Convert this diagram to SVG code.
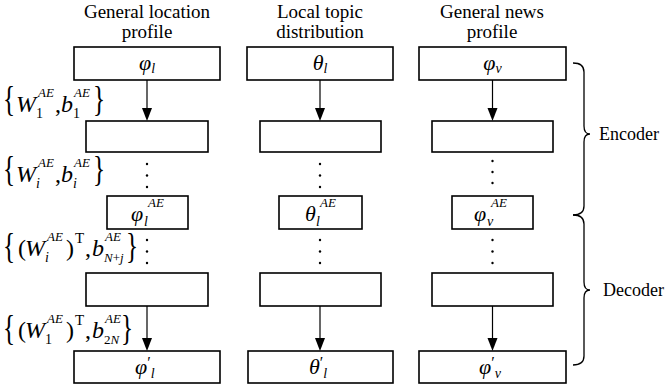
<svg xmlns="http://www.w3.org/2000/svg" width="672" height="390" viewBox="0 0 672 390" font-family="'Liberation Serif', Tinos, 'Times New Roman', 'DejaVu Serif', serif">
<style>
text{font-family:'Liberation Serif', Tinos, 'Times New Roman', 'DejaVu Serif', serif;fill:#000}
.t{font-size:19px}
.e{font-size:18px}
.m{font-style:italic}
.box{fill:#fff;stroke:#000;stroke-width:1.6}
.ln{stroke:#000;stroke-width:1.2;fill:none}
.br{fill:none;stroke:#000;stroke-width:1.3}
.dot{fill:#000}
.ah{fill:#000}
</style>
<rect width="672" height="390" fill="#fff"/>

<g id="titles">
<text class="t" x="147" y="18" text-anchor="middle">General location</text>
<text class="t" x="147" y="38" text-anchor="middle">profile</text>
<text class="t" x="320" y="18" text-anchor="middle">Local topic</text>
<text class="t" x="320" y="38" text-anchor="middle">distribution</text>
<text class="t" x="492" y="18" text-anchor="middle">General news</text>
<text class="t" x="492" y="38" text-anchor="middle">profile</text>
</g>

<g id="connectors">
<line class="ln" x1="147" y1="80" x2="147" y2="110"/>
<path class="ah" d="M142,108 L152,108 L147,121 z"/>
<line class="ln" x1="320" y1="80" x2="320" y2="110"/>
<path class="ah" d="M315,108 L325,108 L320,121 z"/>
<line class="ln" x1="492.5" y1="80" x2="492.5" y2="110"/>
<path class="ah" d="M487.5,108 L497.5,108 L492.5,121 z"/>
<line class="ln" x1="147" y1="306" x2="147" y2="340"/>
<path class="ah" d="M142,338 L152,338 L147,351 z"/>
<line class="ln" x1="320" y1="306" x2="320" y2="340"/>
<path class="ah" d="M315,338 L325,338 L320,351 z"/>
<line class="ln" x1="492.5" y1="306" x2="492.5" y2="340"/>
<path class="ah" d="M487.5,338 L497.5,338 L492.5,351 z"/>
</g>

<g id="dots">
<circle class="dot" cx="147" cy="164" r="1.2"/><circle class="dot" cx="147" cy="175.5" r="1.2"/><circle class="dot" cx="147" cy="187" r="1.2"/>
<circle class="dot" cx="147" cy="240" r="1.2"/><circle class="dot" cx="147" cy="251.5" r="1.2"/><circle class="dot" cx="147" cy="263" r="1.2"/>
<circle class="dot" cx="320" cy="164" r="1.2"/><circle class="dot" cx="320" cy="175.5" r="1.2"/><circle class="dot" cx="320" cy="187" r="1.2"/>
<circle class="dot" cx="320" cy="240" r="1.2"/><circle class="dot" cx="320" cy="251.5" r="1.2"/><circle class="dot" cx="320" cy="263" r="1.2"/>
<circle class="dot" cx="492.5" cy="161" r="1.2"/><circle class="dot" cx="492.5" cy="172" r="1.2"/><circle class="dot" cx="492.5" cy="183" r="1.2"/>
<circle class="dot" cx="492.5" cy="240" r="1.2"/><circle class="dot" cx="492.5" cy="251.5" r="1.2"/><circle class="dot" cx="492.5" cy="263" r="1.2"/>
</g>

<!-- Column 1 -->
<g id="c1_in">
<rect class="box" x="74" y="47" width="146" height="33"/>
<text class="m" x="147" y="70" font-size="22" text-anchor="middle">φ<tspan font-size="14" dy="3">l</tspan></text>
</g>
<g id="c1_h1"><rect class="box" x="86" y="121" width="122" height="31"/></g>
<g id="c1_code">
<rect class="box" x="107" y="196" width="81" height="33"/>
<text class="m" x="131" y="221" font-size="22">φ</text>
<text class="m" x="148" y="207" font-size="13">AE</text>
<text class="m" x="144" y="226" font-size="14">l</text>
</g>
<g id="c1_h2"><rect class="box" x="86" y="273" width="122" height="33"/></g>
<g id="c1_out">
<rect class="box" x="74" y="351" width="146" height="32"/>
<text class="m" x="135" y="374" font-size="22">φ<tspan font-style="normal" font-size="16" dy="-6">′</tspan><tspan font-size="14" dy="10">l</tspan></text>
</g>

<!-- Column 2 -->
<g id="c2_in">
<rect class="box" x="247" y="47" width="146" height="33"/>
<text class="m" x="320" y="70" font-size="22" text-anchor="middle">θ<tspan font-size="14" dy="3">l</tspan></text>
</g>
<g id="c2_h1"><rect class="box" x="260" y="121" width="121" height="31"/></g>
<g id="c2_code">
<rect class="box" x="279" y="196" width="83" height="33"/>
<text class="m" x="305" y="221" font-size="22">θ</text>
<text class="m" x="320" y="207" font-size="13">AE</text>
<text class="m" x="316" y="226" font-size="14">l</text>
</g>
<g id="c2_h2"><rect class="box" x="260" y="273" width="121" height="33"/></g>
<g id="c2_out">
<rect class="box" x="248" y="351" width="145" height="32"/>
<text class="m" x="309" y="374" font-size="22">θ<tspan font-style="normal" font-size="16" dy="-6">′</tspan><tspan font-size="14" dy="10">l</tspan></text>
</g>

<!-- Column 3 -->
<g id="c3_in">
<rect class="box" x="419" y="47" width="147" height="33"/>
<text class="m" x="492.5" y="70" font-size="22" text-anchor="middle">φ<tspan font-size="14" dy="3">v</tspan></text>
</g>
<g id="c3_h1"><rect class="box" x="432" y="121" width="121" height="31"/></g>
<g id="c3_code">
<rect class="box" x="452" y="196" width="81" height="33"/>
<text class="m" x="474" y="221" font-size="22">φ</text>
<text class="m" x="491" y="207" font-size="13">AE</text>
<text class="m" x="487" y="226" font-size="14">v</text>
</g>
<g id="c3_h2"><rect class="box" x="432" y="273" width="121" height="33"/></g>
<g id="c3_out">
<rect class="box" x="419" y="351" width="147" height="32"/>
<text class="m" x="479" y="374" font-size="22">φ<tspan font-style="normal" font-size="16" dy="-6">′</tspan><tspan font-size="14" dy="10">v</tspan></text>
</g>

<!-- Left parameter labels -->
<g id="lab1">
<text transform="translate(3,111) scale(0.7,1)" font-size="36">{</text>
<text class="m" x="16" y="112" font-size="24">W</text>
<text class="m" x="38" y="97" font-size="13">AE</text>
<text x="36" y="118" font-size="14">1</text>
<text x="55" y="112" font-size="24">,</text>
<text class="m" x="61" y="112" font-size="24">b</text>
<text class="m" x="74" y="97" font-size="13">AE</text>
<text x="73" y="118" font-size="14">1</text>
<text transform="translate(93,111) scale(0.7,1)" font-size="36">}</text>
</g>
<g id="lab2">
<text transform="translate(3,181) scale(0.7,1)" font-size="36">{</text>
<text class="m" x="16" y="182" font-size="24">W</text>
<text class="m" x="38" y="167" font-size="13">AE</text>
<text class="m" x="36" y="188" font-size="14">i</text>
<text x="55" y="182" font-size="24">,</text>
<text class="m" x="61" y="182" font-size="24">b</text>
<text class="m" x="74" y="167" font-size="13">AE</text>
<text class="m" x="73" y="188" font-size="14">i</text>
<text transform="translate(93,181) scale(0.7,1)" font-size="36">}</text>
</g>
<g id="lab3">
<text transform="translate(3,258) scale(0.7,1)" font-size="36">{</text>
<text x="18" y="256" font-size="24">(</text>
<text class="m" x="25" y="256" font-size="24">W</text>
<text class="m" x="47" y="241" font-size="13">AE</text>
<text class="m" x="45" y="262" font-size="14">i</text>
<text x="66" y="256" font-size="24">)</text>
<text x="75" y="243" font-size="15">T</text>
<text x="85" y="256" font-size="24">,</text>
<text class="m" x="92" y="256" font-size="24">b</text>
<text class="m" x="105" y="241" font-size="13">AE</text>
<text class="m" x="104" y="262" font-size="13">N<tspan font-style="normal">+</tspan>j</text>
<text transform="translate(126,258) scale(0.7,1)" font-size="36">}</text>
</g>
<g id="lab4">
<text transform="translate(3,340) scale(0.7,1)" font-size="36">{</text>
<text x="18" y="338" font-size="24">(</text>
<text class="m" x="25" y="338" font-size="24">W</text>
<text class="m" x="47" y="323" font-size="13">AE</text>
<text x="45" y="344" font-size="14">1</text>
<text x="66" y="338" font-size="24">)</text>
<text x="75" y="325" font-size="15">T</text>
<text x="85" y="338" font-size="24">,</text>
<text class="m" x="92" y="338" font-size="24">b</text>
<text class="m" x="105" y="323" font-size="13">AE</text>
<text x="104" y="344" font-size="13">2<tspan font-style="italic">N</tspan></text>
<text transform="translate(121,340) scale(0.7,1)" font-size="36">}</text>
</g>

<!-- Right braces -->
<g id="encoder">
<path class="br" d="M573,63 Q584,63 584,72 L584,126 Q584,134 590,134 Q584,134 584,142 L584,206 Q584,215 573,215"/>
<text class="e" x="599" y="140">Encoder</text>
</g>
<g id="decoder">
<path class="br" d="M573,215 Q584,215 584,224 L584,282 Q584,290 590,290 Q584,290 584,298 L584,356 Q584,365 573,365"/>
<text class="e" x="603" y="296">Decoder</text>
</g>
</svg>
